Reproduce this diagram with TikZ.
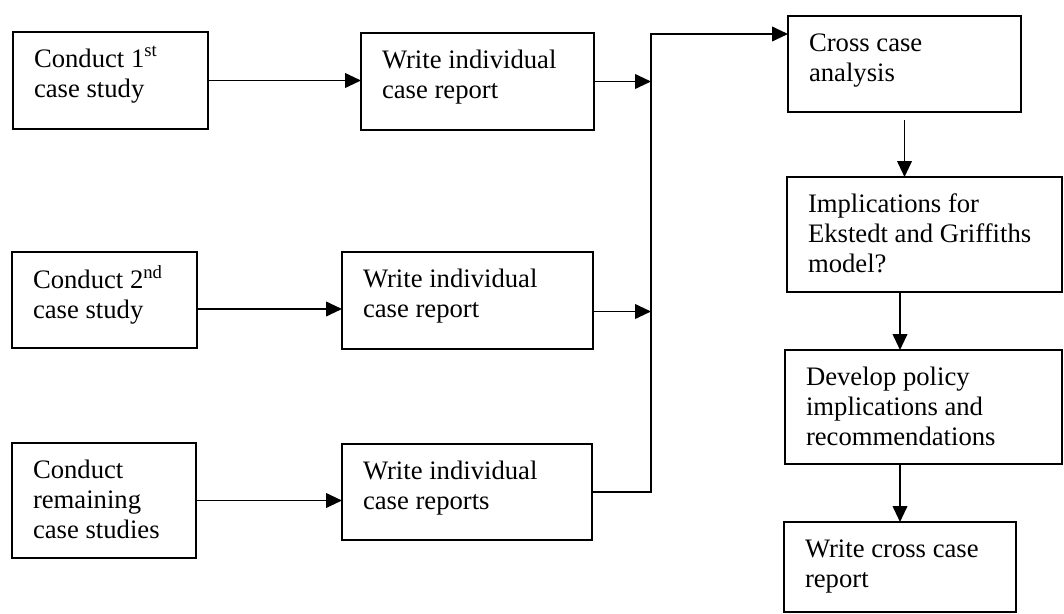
\documentclass[tikz,border=0pt]{standalone}
\usepackage{fontspec}
\setmainfont{Liberation Serif}
\usetikzlibrary{arrows.meta}

\newlength\px
\setlength\px{0.75pt}
\newcommand{\boxtext}[3]{\parbox[t][#2\px][t]{#1\px}{\raggedright\strut#3}}

\begin{document}
\begin{tikzpicture}[x=0.75pt,y=-0.75pt,line width=1.4pt]

      \useasboundingbox (0,0) rectangle (1064,614);

      \begin{scope}[every node/.style={draw,anchor=north west,outer sep=0pt,
          inner xsep=15.75pt,inner ysep=10.5pt,font=\fontsize{20}{22.5}\selectfont}]
        \node (study1) at (13,32) {\boxtext{153}{69}{Conduct 1\textsuperscript{st}\\case study}};
        \node (report1) at (361,33) {\boxtext{191}{69}{Write individual\\case report}};
        \node (study2) at (12,252) {\boxtext{143}{68}{Conduct 2\textsuperscript{nd}\\case study}};
        \node (report2) at (342,252) {\boxtext{209}{69}{Write individual\\case report}};
        \node (study3) at (12,443) {\boxtext{142}{87}{Conduct\\remaining\\case studies}};
        \node (report3) at (342,444) {\boxtext{208}{68}{Write individual\\case reports}};
        \node (cross) at (788,16) {\boxtext{191}{68}{Cross case\\analysis}};
        \node (model) at (787,177) {\boxtext{233}{87}{Implications for\\Ekstedt and Griffiths\\model?}};
        \node (policy) at (785,350) {\boxtext{235}{86}{Develop policy\\implications and\\recommendations}};
        \node (final) at (784,522) {\boxtext{190}{62}{Write cross case\\report}};
      \end{scope}

      \coordinate (bus) at (651,34);

      \begin{scope}[-{Triangle[length=12pt,width=11pt]}]
        \draw (study1.east) -- (study1.east -| report1.west);
        \draw ([yshift=-6.75pt]study2.east) -- ([yshift=-6.75pt]study2.east -| report2.west);
        \draw (study3.east) -- (study3.east -| report3.west);

        \draw (report1.east) -- (report1.east -| bus);
        \draw ([yshift=-8.25pt]report2.east) -- ([yshift=-8.25pt]report2.east -| bus);
        \draw (report3.east) -| (bus) -- (bus -| cross.west);

        \draw ([yshift=-6pt]cross.south) -- (cross.south |- model.north);
        \draw (final.north |- model.south) -- (final.north |- policy.north);
        \draw (final.north |- policy.south) -- (final.north);
      \end{scope}

    \end{tikzpicture}
\end{document}
